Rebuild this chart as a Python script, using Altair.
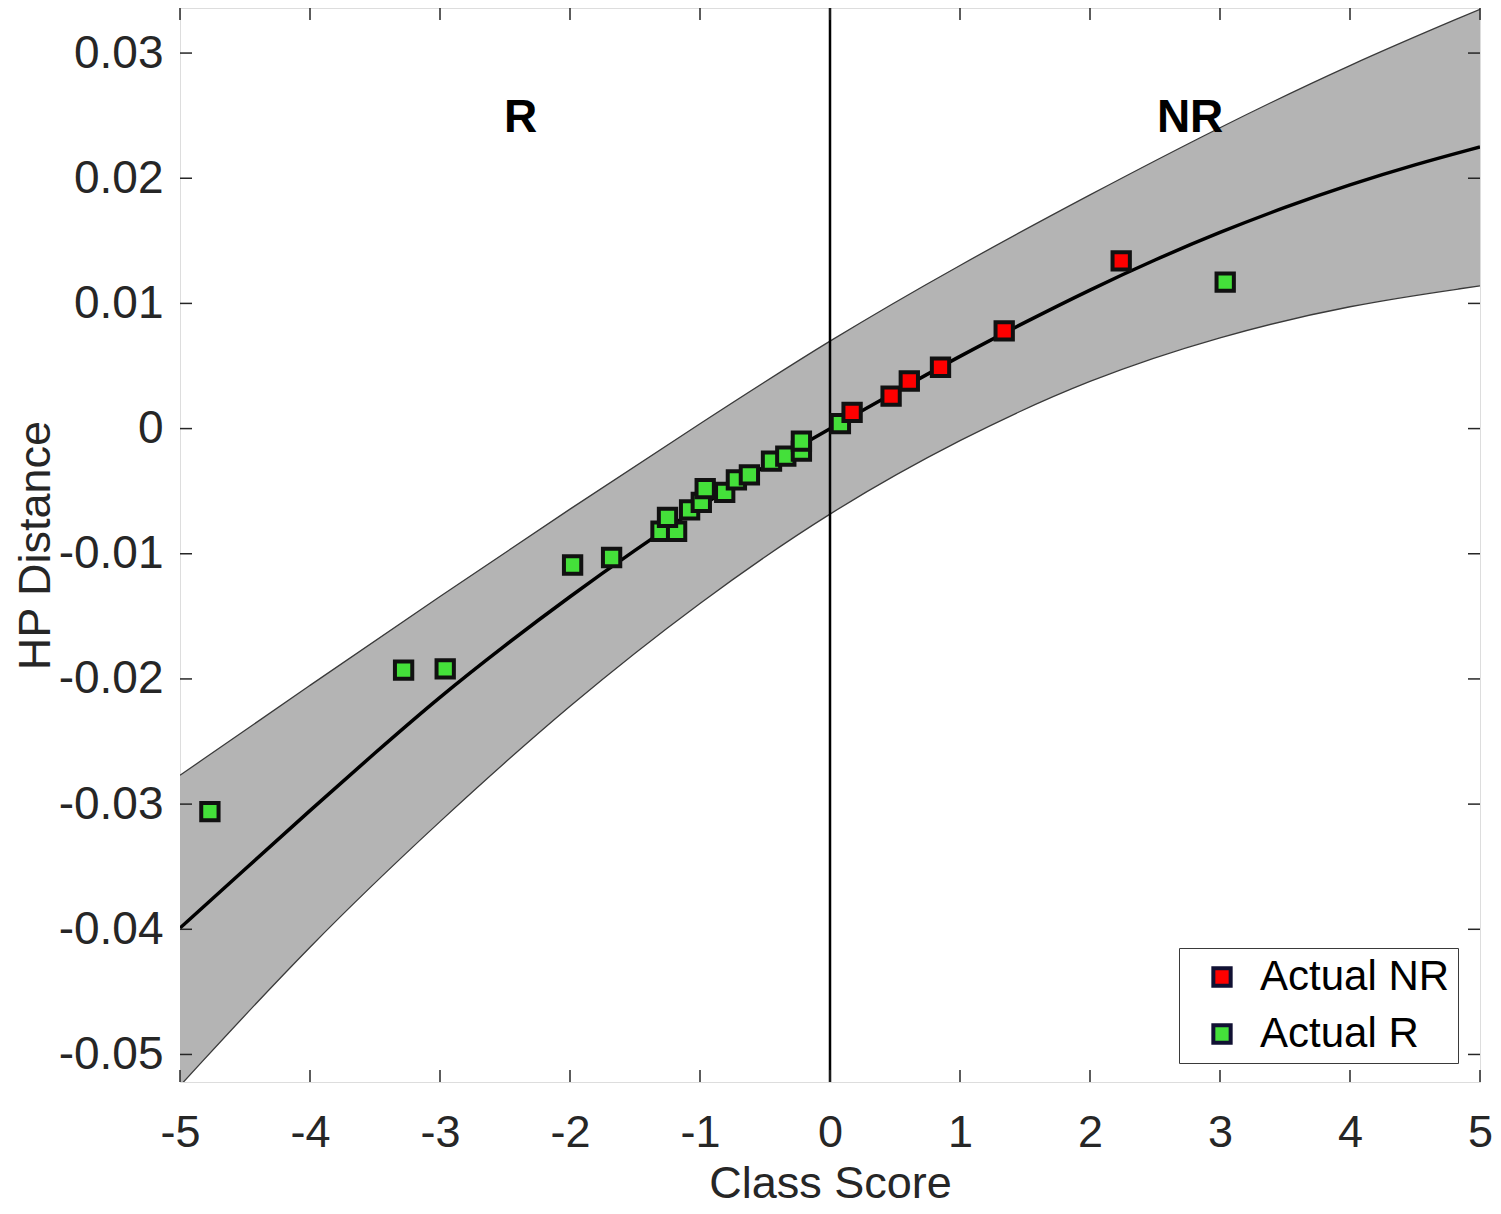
import altair as alt
import pandas as pd

FONT = "Liberation Sans, Arial, Helvetica, sans-serif"
TXT = "#262626"

# fitted curve
line_x = [-5.0, -4.5, -4.0, -3.5, -3.0, -2.5, -2.0, -1.5, -1.0, -0.5, 0.0,
          0.5, 1.0, 1.5, 2.0, 2.5, 3.0, 3.5, 4.0, 4.5, 5.0]
line_y = [-0.0399, -0.0352, -0.0305, -0.0259, -0.0214, -0.0173, -0.0134, -0.0097,
          -0.0062, -0.0030, 0.0000, 0.0029, 0.0058, 0.0085, 0.0111, 0.0135,
          0.0157, 0.0177, 0.0195, 0.0211, 0.0225]

# confidence band
band_x = [-5, -4, -3, -2, -1, 0, 1, 2, 3, 4, 5]
band_upper = [-0.0277, -0.0205, -0.0134, -0.0064, 0.0004, 0.0071, 0.0131, 0.0187, 0.0241, 0.0291, 0.0335]
band_lower = [-0.0525, -0.0412, -0.0313, -0.0220, -0.0138, -0.0066, -0.0008, 0.0040, 0.0074, 0.0099, 0.0114]

# Actual NR
nr_x = [0.17, 0.47, 0.61, 0.85, 1.34, 2.24]
nr_y = [0.0013, 0.0026, 0.0038, 0.0049, 0.0078, 0.0134]

# Actual R
r_x = [-4.77, -3.28, -2.96, -1.98, -1.68, -1.30, -1.18, -1.25, -1.08, -0.99, -0.96,
       -0.81, -0.72, -0.62, -0.45, -0.34, -0.22, -0.22, 0.08, 3.04]
r_y = [-0.0306, -0.0193, -0.0192, -0.0109, -0.0103, -0.0082, -0.0082, -0.0071, -0.0065,
       -0.0059, -0.0048, -0.0051, -0.0041, -0.0037, -0.0026, -0.0022, -0.0018, -0.0010,
       0.0004, 0.0117]

# region labels
lbl_text = ["R", "NR"]
lbl_x = [-2.38, 2.77]
lbl_y = [0.0248, 0.0248]

x_ticks = [-5, -4, -3, -2, -1, 0, 1, 2, 3, 4, 5]
y_ticks = [-0.05, -0.04, -0.03, -0.02, -0.01, 0, 0.01, 0.02, 0.03]

W, H = 1300, 1074

line_df = pd.DataFrame({"x": line_x, "y": line_y})
band_df = pd.DataFrame({"x": band_x, "upper": band_upper, "lower": band_lower})
pts_df = pd.DataFrame({
    "x": r_x + nr_x,
    "y": r_y + nr_y,
    "cls": ["Actual R"] * len(r_x) + ["Actual NR"] * len(nr_x),
})
lbl_df = pd.DataFrame({"x": lbl_x, "y": lbl_y, "t": lbl_text})
xt_df = pd.DataFrame({"t": x_ticks})
yt_df = pd.DataFrame({"t": y_ticks})

xs = alt.Scale(domain=[-5, 5], nice=False, zero=False)
ys = alt.Scale(domain=[-0.0522, 0.0336], nice=False, zero=False)

xaxis = alt.Axis(
    title="Class Score", values=x_ticks,
    labelExpr="replace(format(datum.value, 'd'), '\u2212', '-')",
    ticks=False, domain=False, grid=False, labelFlush=False, labelOverlap=False,
    labelFontSize=45, labelPadding=28, labelColor=TXT, labelFont=FONT,
    titleFontSize=45, titleFontWeight="normal", titleColor=TXT, titleFont=FONT,
    titlePadding=6,
)
yaxis = alt.Axis(
    title="HP Distance", values=y_ticks,
    labelExpr="replace(format(datum.value, '.2~f'), '\u2212', '-')",
    ticks=False, domain=False, grid=False, labelFlush=False, labelOverlap=False,
    labelFontSize=46, labelPadding=17, labelColor=TXT, labelFont=FONT,
    titleFontSize=45, titleFontWeight="normal", titleColor=TXT, titleFont=FONT,
    titlePadding=0,
)


def X(field):
    return alt.X(field, type="quantitative", scale=xs, axis=xaxis)


def Y(field):
    return alt.Y(field, type="quantitative", scale=ys, axis=yaxis)


band = alt.Chart(band_df).mark_area(color="#b4b4b4", clip=True, interpolate="basis").encode(
    x=X("x"), y=Y("upper"), y2="lower:Q",
)
band_up = alt.Chart(band_df).mark_line(color="#3a3a3a", strokeWidth=1.3, clip=True, interpolate="basis").encode(
    x=X("x"), y=Y("upper"),
)
band_lo = alt.Chart(band_df).mark_line(color="#3a3a3a", strokeWidth=1.3, clip=True, interpolate="basis").encode(
    x=X("x"), y=Y("lower"),
)
fit = alt.Chart(line_df).mark_line(color="black", strokeWidth=3.5, clip=True, interpolate="basis").encode(
    x=X("x"), y=Y("y"),
)
zero = alt.Chart(pd.DataFrame({"x": [0]})).mark_rule(color="black", strokeWidth=2.5).encode(
    x=X("x"),
)

pts = alt.Chart(pts_df).mark_square(size=300, filled=True, opacity=1, stroke="#111111", strokeWidth=4).encode(
    x=X("x"), y=Y("y"),
    fill=alt.Fill(
        "cls:N",
        scale=alt.Scale(domain=["Actual NR", "Actual R"], range=["#ff0000", "#44e03a"]),
        legend=alt.Legend(
            title=None, orient="none", legendX=999, legendY=940,
            symbolType="square", symbolSize=300, symbolStrokeWidth=4,
            symbolStrokeColor="#111133", symbolOpacity=1,
            labelFontSize=42, labelFont=FONT, labelColor="black", labelLimit=400,
            labelOffset=17, symbolOffset=14, rowPadding=15, padding=8,
            strokeColor="#3a3a3a", fillColor="white",
        ),
    ),
)

lbls = alt.Chart(lbl_df).mark_text(fontSize=46, fontWeight="bold", font=FONT, color="black").encode(
    x=X("x"), y=Y("y"), text="t:N",
)

tick_col = "#262626"
tb = alt.Chart(xt_df).mark_rule(color=tick_col, strokeWidth=1.5).encode(
    x=X("t"), y=alt.value(H), y2=alt.value(H - 12))
tt = alt.Chart(xt_df).mark_rule(color=tick_col, strokeWidth=1.5).encode(
    x=X("t"), y=alt.value(0), y2=alt.value(12))
tl = alt.Chart(yt_df).mark_rule(color=tick_col, strokeWidth=1.5).encode(
    y=Y("t"), x=alt.value(0), x2=alt.value(12))
tr = alt.Chart(yt_df).mark_rule(color=tick_col, strokeWidth=1.5).encode(
    y=Y("t"), x=alt.value(W), x2=alt.value(W - 12))

chart = alt.layer(band, band_up, band_lo, fit, zero, tb, tt, tl, tr, pts, lbls).properties(
    width=W, height=H,
    autosize=alt.AutoSizeParams(type="none"),
    padding={"left": 172, "top": 0, "right": 12, "bottom": 124},
).configure_view(stroke="#333333", strokeWidth=2).configure(background="white")

chart.save("out.html", embed_options={"renderer": "svg", "actions": False})
